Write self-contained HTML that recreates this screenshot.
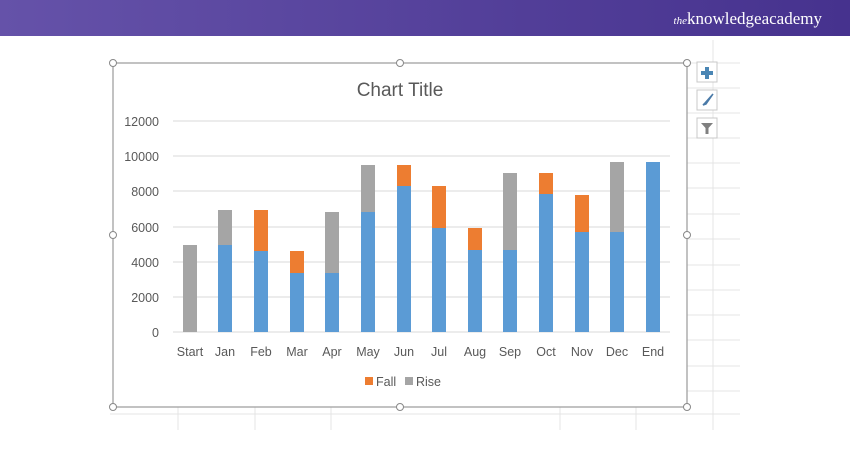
<!DOCTYPE html>
<html><head><meta charset="utf-8"><style>
html,body{margin:0;padding:0;width:850px;height:450px;overflow:hidden;background:#fff}
svg{display:block}
</style></head><body>
<svg width="850" height="450" xmlns="http://www.w3.org/2000/svg" font-family="Liberation Sans, sans-serif">
<defs><linearGradient id="hg" x1="0" x2="1"><stop offset="0" stop-color="#6552a9"/><stop offset="1" stop-color="#46328e"/></linearGradient></defs>
<rect x="0" y="0" width="850" height="36" fill="url(#hg)"/>
<text x="822" y="24" fill="#fff" font-family="Liberation Serif, serif" font-size="17" text-anchor="end"><tspan font-style="italic" font-size="11">the</tspan>knowledgeacademy</text>
<!-- sheet grid -->
<g stroke="#e4e4e4" stroke-width="1">
<line x1="110" y1="63" x2="740" y2="63"/>
<line x1="687" y1="88" x2="740" y2="88"/><line x1="687" y1="113" x2="740" y2="113"/><line x1="687" y1="138" x2="740" y2="138"/><line x1="687" y1="163" x2="740" y2="163"/><line x1="687" y1="188" x2="740" y2="188"/><line x1="687" y1="214" x2="740" y2="214"/><line x1="687" y1="239" x2="740" y2="239"/><line x1="687" y1="265" x2="740" y2="265"/><line x1="687" y1="290" x2="740" y2="290"/><line x1="687" y1="315" x2="740" y2="315"/><line x1="687" y1="340" x2="740" y2="340"/><line x1="687" y1="366" x2="740" y2="366"/><line x1="687" y1="391" x2="740" y2="391"/>
<line x1="110" y1="414" x2="740" y2="414"/>
<line x1="713" y1="40" x2="713" y2="430"/>
<line x1="178" y1="407" x2="178" y2="430"/><line x1="255" y1="407" x2="255" y2="430"/><line x1="331" y1="407" x2="331" y2="430"/><line x1="560" y1="407" x2="560" y2="430"/><line x1="636" y1="407" x2="636" y2="430"/>
</g>
<!-- chart box -->
<rect x="113" y="63" width="574" height="344" fill="#fff" stroke="#9a9a9a" stroke-width="1.2"/>
<g fill="#fff" stroke="#888" stroke-width="1">
<circle cx="113" cy="63" r="3.5"/><circle cx="400" cy="63" r="3.5"/><circle cx="687" cy="63" r="3.5"/>
<circle cx="113" cy="235" r="3.5"/><circle cx="687" cy="235" r="3.5"/>
<circle cx="113" cy="407" r="3.5"/><circle cx="400" cy="407" r="3.5"/><circle cx="687" cy="407" r="3.5"/>
</g>
<text x="400" y="96" font-size="19" fill="#595959" text-anchor="middle">Chart Title</text>
<g stroke="#d9d9d9" stroke-width="1">
<line x1="173" y1="121" x2="670" y2="121"/><line x1="173" y1="156" x2="670" y2="156"/><line x1="173" y1="191" x2="670" y2="191"/><line x1="173" y1="227" x2="670" y2="227"/><line x1="173" y1="262" x2="670" y2="262"/><line x1="173" y1="297" x2="670" y2="297"/><line x1="173" y1="332" x2="670" y2="332"/>
</g>
<g font-size="12.5" fill="#595959" text-anchor="end">
<text x="159" y="126">12000</text><text x="159" y="161">10000</text><text x="159" y="196">8000</text><text x="159" y="232">6000</text><text x="159" y="267">4000</text><text x="159" y="302">2000</text><text x="159" y="337">0</text>
</g>
<g>
<!-- Start --><rect x="183" y="245" width="14" height="87" fill="#a5a5a5"/>
<!-- Jan --><rect x="218" y="245" width="14" height="87" fill="#5b9bd5"/><rect x="218" y="210" width="14" height="35" fill="#a5a5a5"/>
<!-- Feb --><rect x="254" y="251" width="14" height="81" fill="#5b9bd5"/><rect x="254" y="210" width="14" height="41" fill="#ed7d31"/>
<!-- Mar --><rect x="290" y="273" width="14" height="59" fill="#5b9bd5"/><rect x="290" y="251" width="14" height="22" fill="#ed7d31"/>
<!-- Apr --><rect x="325" y="273" width="14" height="59" fill="#5b9bd5"/><rect x="325" y="212" width="14" height="61" fill="#a5a5a5"/>
<!-- May --><rect x="361" y="212" width="14" height="120" fill="#5b9bd5"/><rect x="361" y="165" width="14" height="47" fill="#a5a5a5"/>
<!-- Jun --><rect x="397" y="186" width="14" height="146" fill="#5b9bd5"/><rect x="397" y="165" width="14" height="21" fill="#ed7d31"/>
<!-- Jul --><rect x="432" y="228" width="14" height="104" fill="#5b9bd5"/><rect x="432" y="186" width="14" height="42" fill="#ed7d31"/>
<!-- Aug --><rect x="468" y="250" width="14" height="82" fill="#5b9bd5"/><rect x="468" y="228" width="14" height="22" fill="#ed7d31"/>
<!-- Sep --><rect x="503" y="250" width="14" height="82" fill="#5b9bd5"/><rect x="503" y="173" width="14" height="77" fill="#a5a5a5"/>
<!-- Oct --><rect x="539" y="194" width="14" height="138" fill="#5b9bd5"/><rect x="539" y="173" width="14" height="21" fill="#ed7d31"/>
<!-- Nov --><rect x="575" y="232" width="14" height="100" fill="#5b9bd5"/><rect x="575" y="195" width="14" height="37" fill="#ed7d31"/>
<!-- Dec --><rect x="610" y="232" width="14" height="100" fill="#5b9bd5"/><rect x="610" y="162" width="14" height="70" fill="#a5a5a5"/>
<!-- End --><rect x="646" y="162" width="14" height="170" fill="#5b9bd5"/>
</g>
<g font-size="12.5" fill="#595959" text-anchor="middle">
<text x="190" y="356">Start</text><text x="225" y="356">Jan</text><text x="261" y="356">Feb</text><text x="297" y="356">Mar</text><text x="332" y="356">Apr</text><text x="368" y="356">May</text><text x="404" y="356">Jun</text><text x="439" y="356">Jul</text><text x="475" y="356">Aug</text><text x="510" y="356">Sep</text><text x="546" y="356">Oct</text><text x="582" y="356">Nov</text><text x="617" y="356">Dec</text><text x="653" y="356">End</text>
</g>
<rect x="365" y="377" width="8" height="8" fill="#ed7d31"/><text x="376" y="386" font-size="12.5" fill="#595959">Fall</text>
<rect x="405" y="377" width="8" height="8" fill="#a5a5a5"/><text x="416" y="386" font-size="12.5" fill="#595959">Rise</text>
<!-- side buttons -->
<g fill="#fff" stroke="#c8c8c8"><rect x="697" y="62" width="20" height="20"/><rect x="697" y="90" width="20" height="20"/><rect x="697" y="118" width="20" height="20"/></g>
<path d="M705 67h4v4h4v4h-4v4h-4v-4h-4v-4h4z" fill="#4a86b4"/>
<path d="M713 94 L705 103 L703 105 L706 104 Z" fill="#4a7aa8" stroke="#4a7aa8" stroke-width="1.5"/>
<path d="M701 123h12l-4.5 5v6h-3v-6z" fill="#808080"/>
</svg>
</body></html>
